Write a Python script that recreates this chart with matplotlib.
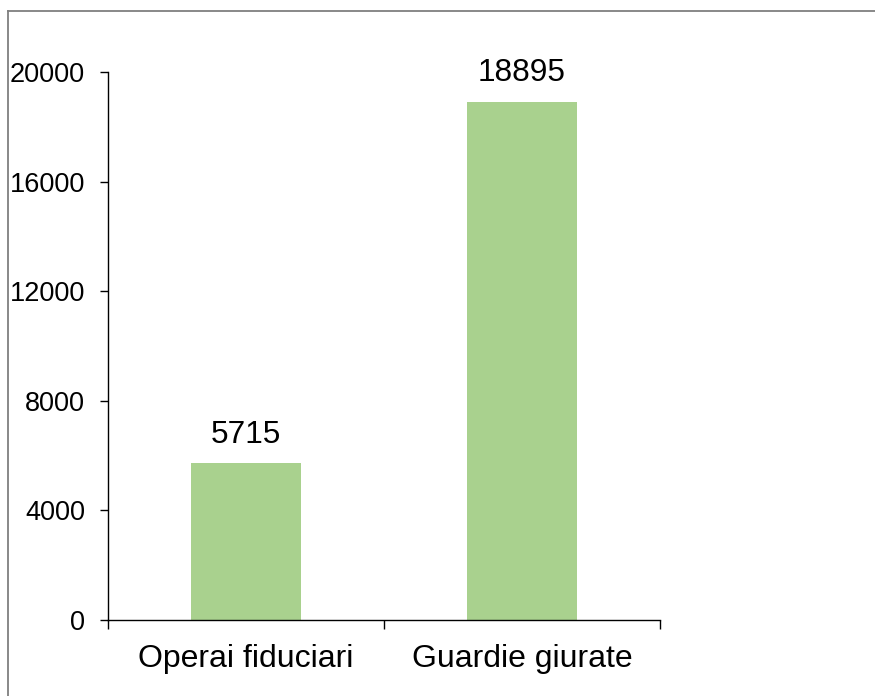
import matplotlib
matplotlib.use("Agg")
import matplotlib.pyplot as plt
from matplotlib.lines import Line2D

categories = ["Operai fiduciari", "Guardie giurate"]
values = [5715, 18895]
yticks = [0, 4000, 8000, 12000, 16000, 20000]

plt.rcParams['font.family'] = ['Liberation Sans', 'DejaVu Sans']

fig = plt.figure(figsize=(8.75, 6.96), dpi=100)
ax = fig.add_axes([108/875, 76/696, (660-108)/875, (620-72)/696])

x = list(range(len(categories)))
ax.bar(x, values, width=0.4, color="#A9D18E", zorder=2)

for xi, v in zip(x, values):
    ax.annotate(str(v), (xi, v), xytext=(0, 10), textcoords="offset points",
                ha="center", va="bottom", fontsize=22.8, color="black")

ax.set_xlim(-0.5, len(categories) - 0.5)
ax.set_ylim(0, 20000)
ax.set_yticks(yticks)
ax.set_yticklabels([str(t) for t in yticks])

ax.set_xticks([i - 0.5 for i in range(len(categories) + 1)])
ax.set_xticklabels([])
ax.set_xticks(x, minor=True)
ax.set_xticklabels(categories, minor=True)
ax.tick_params(axis='x', which='major', length=6.5, width=1, direction='out')
ax.tick_params(axis='x', which='minor', length=0, pad=17, labelsize=23)
ax.tick_params(axis='y', length=5.5, width=1, direction='out', pad=11, labelsize=19.5)

for s in ["top", "right"]:
    ax.spines[s].set_visible(False)
for s in ["left", "bottom"]:
    ax.spines[s].set_linewidth(1)
    ax.spines[s].set_color("black")

# figure border (top and left visible)
fig.add_artist(Line2D([8/875, 1.0], [1 - 11/696, 1 - 11/696], transform=fig.transFigure,
                      color="#7f7f7f", linewidth=1.3))
fig.add_artist(Line2D([8/875, 8/875], [0.0, 1 - 11/696], transform=fig.transFigure,
                      color="#7f7f7f", linewidth=1.3))

fig.savefig("out.png", dpi=100, facecolor="white")
